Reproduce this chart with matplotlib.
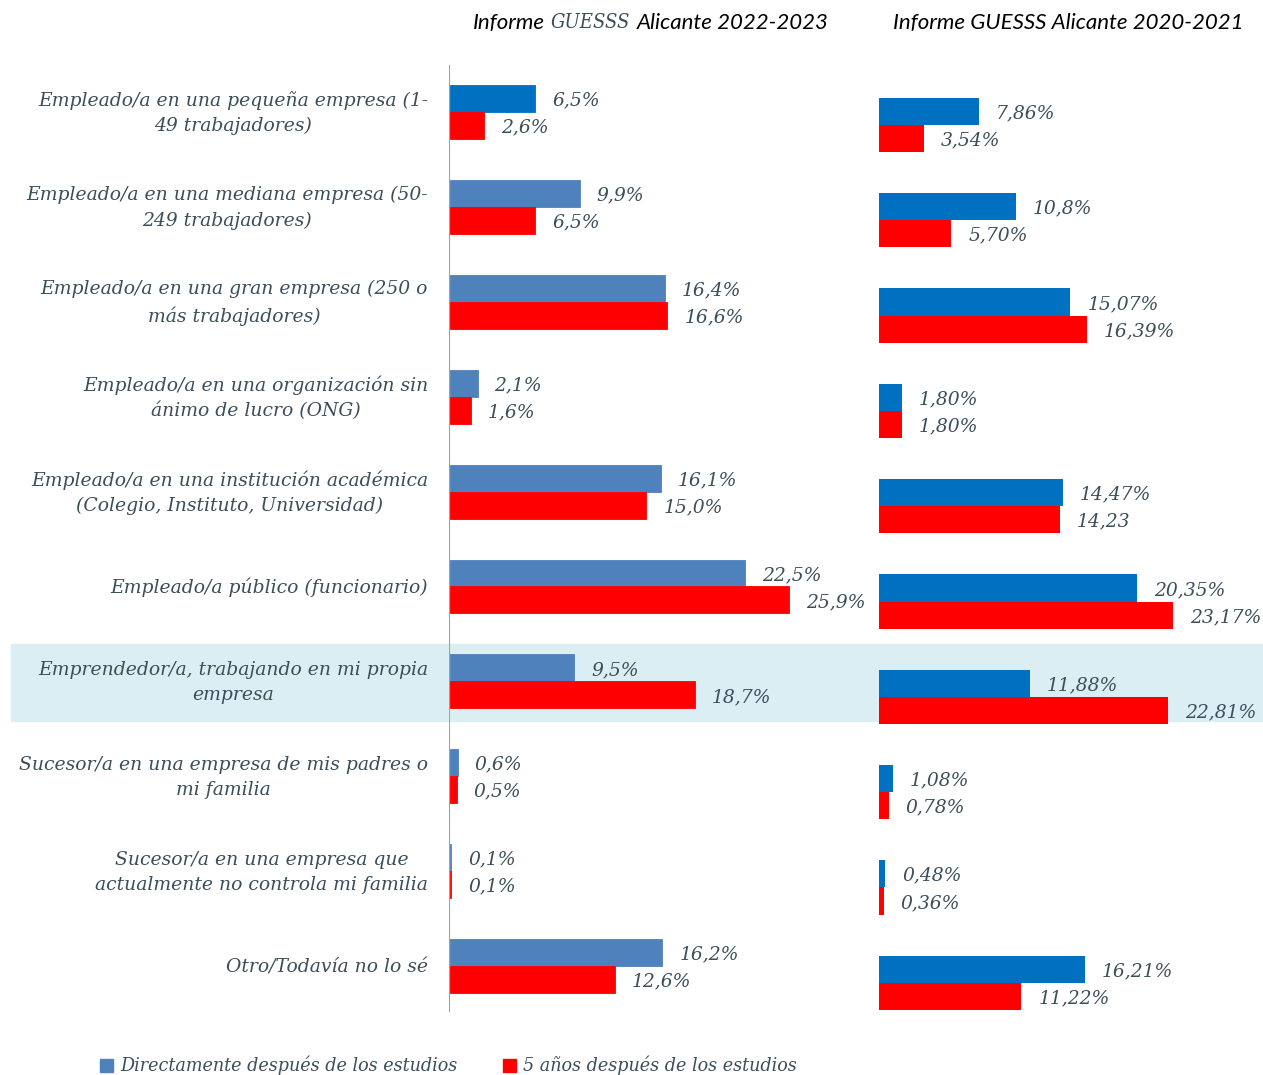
import matplotlib
matplotlib.use("Agg")
import matplotlib.pyplot as plt
from matplotlib.patches import Rectangle

categorias = [
    "Empleado/a en una pequeña empresa (1-\n49 trabajadores)",
    "Empleado/a en una mediana empresa (50-\n249 trabajadores)",
    "Empleado/a en una gran empresa (250 o\nmás trabajadores)",
    "Empleado/a en una organización sin\nánimo de lucro (ONG)",
    "Empleado/a en una institución académica\n(Colegio, Instituto, Universidad)",
    "Empleado/a público (funcionario)",
    "Emprendedor/a, trabajando en mi propia\nempresa",
    "Sucesor/a en una empresa de mis padres o\nmi familia",
    "Sucesor/a en una empresa que\nactualmente no controla mi familia",
    "Otro/Todavía no lo sé",
]

# Informe 2022-2023
directo_2223 = [6.5, 9.9, 16.4, 2.1, 16.1, 22.5, 9.5, 0.6, 0.1, 16.2]
cinco_2223 = [2.6, 6.5, 16.6, 1.6, 15.0, 25.9, 18.7, 0.5, 0.1, 12.6]

# Informe 2020-2021
directo_2021 = [7.86, 10.8, 15.07, 1.80, 14.47, 20.35, 11.88, 1.08, 0.48, 16.21]
cinco_2021 = [3.54, 5.70, 16.39, 1.80, 14.23, 23.17, 22.81, 0.78, 0.36, 11.22]
etiq_directo_2021 = ["7,86%", "10,8%", "15,07%", "1,80%", "14,47%", "20,35%",
                     "11,88%", "1,08%", "0,48%", "16,21%"]
etiq_cinco_2021 = ["3,54%", "5,70%", "16,39%", "1,80%", "14,23", "23,17%",
                   "22,81%", "0,78%", "0,36%", "11,22%"]

leyenda = ["Directamente después de los estudios", "5 años después de los estudios"]

AZUL_CLARO = "#4F81BD"
AZUL = "#0070C0"
ROJO = "#FF0000"
TEXTO = "#3B4E5A"
SERIF = dict(family="DejaVu Serif", style="italic", color=TEXTO)

W, H = 1263, 1075
fig = plt.figure(figsize=(W / 100, H / 100), dpi=100)


def ejes(x0, top, x1, bottom):
    ax = fig.add_axes([x0 / W, 1 - bottom / H, (x1 - x0) / W, (bottom - top) / H])
    ax.patch.set_visible(False)
    for s in ax.spines.values():
        s.set_visible(False)
    ax.set_xticks([])
    ax.set_yticks([])
    return ax


# franja resaltada (emprendedor)
fig.patches.append(Rectangle((11 / W, 1 - 721 / H), (W - 11) / W, 77 / H,
                             transform=fig.transFigure, color="#DAEEF3", zorder=-1))

n = len(categorias)
ylo, yhi = -0.495, 9.484
h = 0.2845
pos = list(range(n))

# panel izquierdo
ax1 = ejes(449, 112 + ylo * 94.9, 449 + 13.13 * 30, 112 + yhi * 94.9)
ax1.set_xlim(-0.08, 30)
ax1.set_ylim(yhi, ylo)
ax1.axvline(-0.08, color="#A0A0A0", lw=1.5, zorder=0)
col_izq = [AZUL] + [AZUL_CLARO] * (n - 1)
ax1.barh([p - h / 2 for p in pos], directo_2223, height=h, color=col_izq,
         edgecolor=col_izq, lw=0.6, zorder=2)
ax1.barh([p + h / 2 for p in pos], cinco_2223, height=h, color=ROJO,
         edgecolor=ROJO, lw=0.6, zorder=2)
for p, cat, a, b in zip(pos, categorias, directo_2223, cinco_2223):
    ax1.annotate(cat, (0, p), xytext=(-22, -1), textcoords="offset pixels",
                 ha="right", va="center", multialignment="center",
                 fontsize=13.5, linespacing=1.5, **SERIF)
    ax1.annotate(f"{a:.1f}%".replace(".", ","), (a, p - h / 2), xytext=(17, -2),
                 textcoords="offset pixels", ha="left", va="center", fontsize=13.5, **SERIF)
    ax1.annotate(f"{b:.1f}%".replace(".", ","), (b, p + h / 2), xytext=(17, -2),
                 textcoords="offset pixels", ha="left", va="center", fontsize=13.5, **SERIF)

# panel derecho
ax2 = ejes(879, 125 + ylo * 95.3, 879 + 12.69 * 30, 125 + yhi * 95.3)
ax2.set_xlim(0, 30)
ax2.set_ylim(yhi, ylo)
ax2.barh([p - h / 2 for p in pos], directo_2021, height=h, color=AZUL)
ax2.barh([p + h / 2 for p in pos], cinco_2021, height=h, color=ROJO)
for p, a, b, ta, tb in zip(pos, directo_2021, cinco_2021, etiq_directo_2021, etiq_cinco_2021):
    ax2.annotate(ta, (a, p - h / 2), xytext=(17, -2), textcoords="offset pixels",
                 ha="left", va="center", fontsize=13.5, **SERIF)
    ax2.annotate(tb, (b, p + h / 2), xytext=(17, -2), textcoords="offset pixels",
                 ha="left", va="center", fontsize=13.5, **SERIF)

# titulos
r = fig.canvas.get_renderer()
TIT = dict(family="Lato", style="italic", fontsize=16, va="center")
ty = 1 - 23 / H
t = fig.text(473 / W, ty, "Informe", color="black", **TIT)
x = t.get_window_extent(r).x1 + 6
t = fig.text(x / W, ty, "GUESSS", color=TEXTO, family="DejaVu Serif", style="italic",
             fontsize=14.5, fontstretch="condensed", va="center")
x = t.get_window_extent(r).x1 + 6
fig.text(x / W, ty, "Alicante 2022-2023", color="black", **TIT)
fig.text(893 / W, ty, "Informe GUESSS Alicante 2020-2021", color="black", **TIT)

# leyenda
ly = 1065
for x0, col, txt in [(100, AZUL_CLARO, leyenda[0]), (503, ROJO, leyenda[1])]:
    fig.patches.append(Rectangle((x0 / W, 1 - (ly + 7) / H), 13 / W, 13 / H,
                                 transform=fig.transFigure, color=col))
    fig.text((x0 + 20) / W, 1 - ly / H, txt, va="center", fontsize=14,
             fontstretch="condensed", **SERIF)

fig.savefig("out.png", dpi=100)
